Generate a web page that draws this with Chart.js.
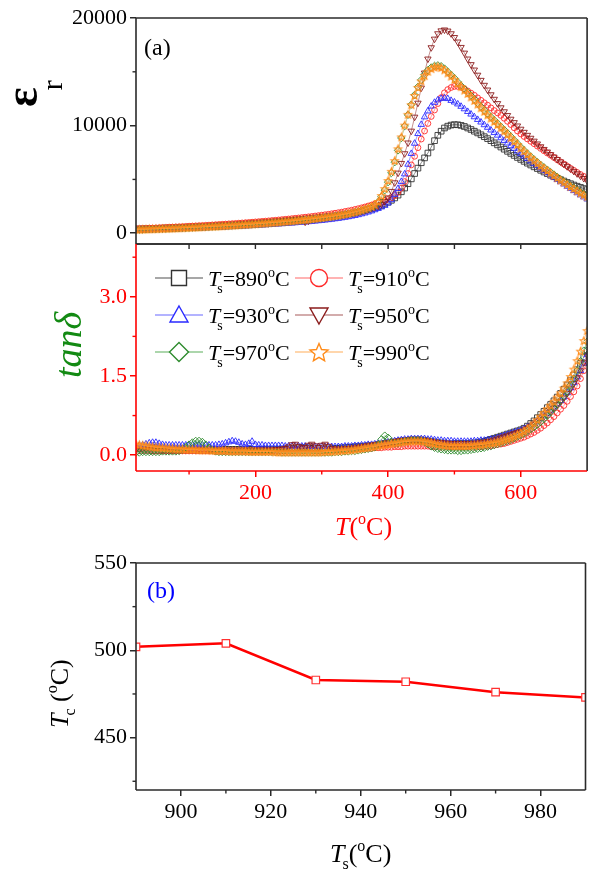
<!DOCTYPE html>
<html>
<head>
<meta charset="utf-8">
<script src="https://cdn.jsdelivr.net/npm/chart.js@4.4.1/dist/chart.umd.min.js"></script>
<style>
  html, body { margin: 0; padding: 0; background: #fff; }
  #wrap { position: relative; width: 592px; height: 870px; }
  #wrap canvas { position: absolute; left: 0; top: 0; }
</style>
</head>
<body>
<div id="wrap">
  <canvas id="cEps" width="592" height="870"></canvas>
  <canvas id="cTan" width="592" height="870"></canvas>
  <canvas id="cTc" width="592" height="870"></canvas>
</div>
<script>
// Measuring temperature T (°C)
const temps = [20,25,30,35,40,45,50,55,60,65,
  70,75,80,85,90,95,100,105,110,115,
  120,125,130,135,140,145,150,155,160,165,
  170,175,180,185,190,195,200,205,210,215,
  220,225,230,235,240,245,250,255,260,265,
  270,275,280,285,290,295,300,305,310,315,
  320,325,330,335,340,345,350,355,360,365,
  370,375,380,385,390,395,400,405,410,415,
  420,425,430,435,440,445,450,455,460,465,
  470,475,480,485,490,495,500,505,510,515,
  520,525,530,535,540,545,550,555,560,565,
  570,575,580,585,590,595,600,605,610,615,
  620,625,630,635,640,645,650,655,660,665,
  670,675,680,685,690,695,700];

// Relative permittivity for each sintering temperature
const eps890 = [380,390,400,410,420,430,445,455,470,480,
  495,505,520,530,545,560,575,590,605,620,
  635,650,665,680,700,715,735,750,770,790,
  810,830,850,870,890,910,935,955,980,1000,
  1025,1050,1075,1100,1125,1150,1180,1205,1235,1260,
  1290,1320,1350,1380,1410,1440,1475,1510,1545,1580,
  1620,1660,1700,1745,1790,1840,1900,1960,2030,2110,
  2180,2260,2350,2460,2580,2720,2880,3060,3280,3540,
  3850,4200,4600,5050,5550,6050,6550,7000,7450,8000,
  8600,9100,9480,9780,9950,10050,10090,10080,10020,9920,
  9780,9640,9480,9320,9150,8970,8790,8600,8400,8210,
  8010,7810,7610,7420,7230,7040,6860,6680,6510,6340,
  6170,6010,5850,5690,5540,5390,5250,5110,4980,4850,
  4720,4600,4480,4370,4260,4150,4050];
const eps910 = [420,430,445,455,470,480,495,510,525,540,
  555,570,585,600,615,630,650,665,680,700,
  715,735,750,770,790,810,830,850,870,890,
  910,935,955,980,1000,1025,1050,1075,1100,1125,
  1150,1180,1205,1235,1265,1295,1325,1355,1390,1420,
  1455,1490,1525,1560,1600,1640,1680,1720,1760,1810,
  1860,1910,1960,2020,2080,2140,2210,2280,2360,2440,
  2530,2620,2720,2820,2920,3030,3150,3300,3500,3800,
  4200,4800,5550,6350,7150,7950,8750,9500,10200,10850,
  11450,12050,12600,13050,13350,13540,13640,13640,13560,13420,
  13220,13020,12820,12580,12350,12120,11900,11650,11400,11180,
  10950,10680,10400,10100,9800,9500,9230,8990,8760,8540,
  8320,8100,7880,7660,7450,7250,7040,6830,6630,6430,
  6230,6030,5840,5650,5460,5280,5100];
const eps930 = [280,290,300,305,315,325,335,345,355,365,
  375,385,395,405,415,425,435,450,460,470,
  485,495,510,520,535,545,560,575,590,605,
  620,635,650,665,680,700,715,735,750,770,
  790,810,830,850,870,890,915,935,960,985,
  1010,1035,1060,1090,1120,1150,1180,1215,1250,1290,
  1330,1370,1420,1470,1520,1580,1640,1710,1790,1870,
  1960,2060,2170,2290,2430,2580,2800,3100,3600,4150,
  4800,5500,6400,7400,8350,9250,10100,10800,11350,11800,
  12150,12380,12520,12570,12500,12330,12180,12000,11780,11550,
  11300,11060,10810,10560,10320,10070,9830,9580,9340,9100,
  8860,8610,8370,8120,7880,7620,7380,7160,6930,6700,
  6480,6270,6050,5830,5620,5400,5190,4980,4770,4560,
  4350,4150,3950,3750,3550,3360,3170];
const eps950 = [350,360,370,380,390,400,410,420,435,445,
  460,470,485,495,510,525,540,555,570,585,
  600,615,630,650,665,685,700,720,740,760,
  780,800,820,840,860,880,905,925,950,975,
  1000,1025,1050,1080,1110,1140,1170,1200,1230,1255,
  1200,1050,1150,1300,1360,1400,1440,1480,1520,1560,
  1600,1650,1700,1750,1800,1860,1920,1990,2060,2140,
  2230,2330,2440,2560,2700,2950,3300,3900,4700,5600,
  6500,7400,8400,9500,10800,12100,13500,14900,16200,17250,
  18050,18550,18820,18900,18800,18550,18200,17780,17280,16750,
  16200,15680,15180,14700,14220,13760,13320,12880,12460,12060,
  11670,11300,10950,10610,10290,9980,9680,9390,9110,8840,
  8570,8310,8050,7800,7560,7320,7090,6860,6640,6420,
  6200,5980,5760,5540,5320,5100,4880];
const eps970 = [330,340,350,360,370,380,390,400,410,420,
  435,445,455,470,480,495,505,520,535,550,
  560,575,590,605,620,635,650,670,685,700,
  720,735,755,775,795,815,835,855,880,900,
  925,950,975,1000,1025,1050,1080,1110,1140,1170,
  1200,1230,1265,1300,1335,1370,1410,1450,1490,1530,
  1580,1630,1680,1740,1800,1870,1940,2020,2110,2200,
  2310,2430,2570,2900,3400,4000,4750,5600,6600,7700,
  8850,9950,11000,11950,12850,13600,14250,14750,15150,15400,
  15550,15600,15520,15300,15000,14700,14400,14050,13700,13400,
  13100,12780,12450,12100,11750,11430,11100,10800,10500,10200,
  9900,9600,9300,8980,8650,8330,8000,7700,7400,7120,
  6850,6600,6350,6120,5900,5670,5450,5220,5000,4800,
  4600,4400,4200,4000,3800,3620,3450];
const eps990 = [360,370,380,390,400,410,420,430,440,450,
  465,475,490,500,515,525,540,555,570,585,
  600,615,630,645,660,680,695,710,730,745,
  765,785,805,825,845,865,885,910,930,955,
  980,1000,1025,1050,1080,1105,1135,1160,1190,1220,
  1250,1280,1315,1350,1385,1420,1460,1500,1540,1585,
  1630,1680,1730,1790,1850,1920,1990,2070,2160,2260,
  2370,2500,2650,2950,3500,4150,4900,5750,6750,7850,
  8950,10050,11050,11950,12800,13550,14150,14650,15050,15300,
  15450,15480,15400,15180,14900,14600,14300,13950,13620,13300,
  12990,12670,12340,12000,11660,11330,11000,10700,10400,10100,
  9800,9500,9200,8880,8560,8240,7920,7620,7330,7050,
  6780,6530,6280,6050,5830,5600,5380,5150,4940,4740,
  4540,4340,4140,3940,3740,3560,3400];

// Dielectric loss tangent for each sintering temperature
const tan890 = [0.14,0.14,0.13,0.13,0.13,0.13,0.12,0.12,0.12,0.12,
  0.12,0.12,0.12,0.12,0.12,0.12,0.12,0.12,0.12,0.12,
  0.12,0.12,0.11,0.11,0.11,0.11,0.11,0.11,0.11,0.11,
  0.11,0.11,0.11,0.11,0.11,0.11,0.11,0.11,0.11,0.11,
  0.11,0.11,0.11,0.11,0.12,0.12,0.12,0.13,0.13,0.14,
  0.14,0.14,0.14,0.13,0.13,0.12,0.12,0.12,0.12,0.12,
  0.13,0.13,0.14,0.14,0.15,0.15,0.16,0.16,0.17,0.17,
  0.18,0.18,0.19,0.20,0.21,0.22,0.23,0.24,0.25,0.26,
  0.27,0.28,0.28,0.29,0.29,0.29,0.29,0.28,0.27,0.26,
  0.25,0.24,0.23,0.23,0.22,0.22,0.22,0.22,0.22,0.22,
  0.22,0.23,0.23,0.24,0.25,0.26,0.28,0.30,0.32,0.34,
  0.36,0.38,0.40,0.42,0.44,0.46,0.48,0.51,0.55,0.60,
  0.65,0.71,0.77,0.83,0.90,0.96,1.03,1.10,1.17,1.25,
  1.33,1.42,1.52,1.62,1.74,1.86,1.98];
const tan910 = [0.09,0.09,0.09,0.09,0.09,0.08,0.08,0.08,0.08,0.08,
  0.08,0.08,0.08,0.08,0.08,0.08,0.08,0.08,0.08,0.08,
  0.08,0.08,0.08,0.08,0.07,0.07,0.07,0.07,0.07,0.07,
  0.07,0.07,0.07,0.07,0.07,0.07,0.07,0.07,0.07,0.07,
  0.08,0.08,0.08,0.08,0.09,0.09,0.10,0.10,0.11,0.11,
  0.12,0.12,0.11,0.10,0.10,0.09,0.09,0.09,0.09,0.10,
  0.10,0.10,0.10,0.11,0.11,0.11,0.12,0.12,0.12,0.13,
  0.13,0.13,0.14,0.14,0.14,0.15,0.15,0.15,0.16,0.16,
  0.16,0.17,0.17,0.17,0.17,0.17,0.17,0.17,0.17,0.16,
  0.16,0.16,0.15,0.15,0.15,0.15,0.15,0.15,0.15,0.15,
  0.15,0.15,0.15,0.16,0.16,0.17,0.17,0.18,0.19,0.20,
  0.21,0.22,0.24,0.26,0.28,0.30,0.32,0.34,0.37,0.40,
  0.43,0.47,0.51,0.56,0.61,0.67,0.73,0.80,0.87,0.94,
  1.02,1.11,1.20,1.31,1.45,1.60,1.75];
const tan930 = [0.17,0.18,0.19,0.21,0.23,0.24,0.24,0.22,0.20,0.19,
  0.19,0.19,0.19,0.19,0.19,0.19,0.19,0.19,0.19,0.19,
  0.19,0.19,0.19,0.19,0.19,0.20,0.21,0.23,0.25,0.27,
  0.26,0.24,0.21,0.20,0.22,0.26,0.20,0.19,0.19,0.18,
  0.18,0.18,0.18,0.18,0.18,0.17,0.17,0.17,0.17,0.17,
  0.17,0.17,0.16,0.16,0.16,0.16,0.16,0.16,0.16,0.16,
  0.16,0.16,0.16,0.17,0.17,0.17,0.18,0.18,0.19,0.19,
  0.20,0.20,0.21,0.22,0.23,0.24,0.25,0.26,0.27,0.28,
  0.29,0.30,0.30,0.31,0.31,0.31,0.31,0.31,0.30,0.30,
  0.29,0.28,0.28,0.27,0.27,0.27,0.26,0.26,0.26,0.26,
  0.26,0.26,0.27,0.27,0.28,0.28,0.29,0.30,0.31,0.33,
  0.35,0.37,0.39,0.41,0.43,0.45,0.47,0.50,0.53,0.56,
  0.60,0.64,0.69,0.74,0.79,0.85,0.91,0.97,1.03,1.10,
  1.18,1.27,1.37,1.48,1.60,1.74,1.90];
const tan950 = [0.10,0.10,0.10,0.10,0.10,0.10,0.10,0.10,0.10,0.10,
  0.10,0.10,0.10,0.10,0.10,0.10,0.10,0.10,0.10,0.10,
  0.10,0.10,0.10,0.10,0.10,0.10,0.10,0.10,0.10,0.10,
  0.10,0.10,0.10,0.10,0.10,0.10,0.10,0.10,0.10,0.10,
  0.10,0.10,0.11,0.11,0.12,0.13,0.16,0.20,0.21,0.17,
  0.14,0.15,0.19,0.21,0.18,0.15,0.19,0.21,0.17,0.13,
  0.12,0.12,0.12,0.13,0.13,0.14,0.14,0.15,0.16,0.17,
  0.18,0.19,0.20,0.21,0.22,0.23,0.24,0.25,0.26,0.27,
  0.28,0.28,0.29,0.29,0.29,0.29,0.28,0.28,0.27,0.26,
  0.25,0.24,0.24,0.23,0.23,0.22,0.22,0.22,0.22,0.22,
  0.22,0.22,0.23,0.23,0.24,0.25,0.26,0.27,0.29,0.31,
  0.33,0.35,0.37,0.39,0.41,0.43,0.45,0.48,0.51,0.55,
  0.59,0.63,0.68,0.73,0.78,0.84,0.90,0.96,1.02,1.09,
  1.17,1.26,1.36,1.47,1.60,1.75,1.90];
const tan970 = [0.05,0.05,0.06,0.06,0.06,0.06,0.06,0.06,0.07,0.07,
  0.07,0.07,0.07,0.08,0.10,0.15,0.20,0.24,0.27,0.27,
  0.25,0.20,0.14,0.09,0.07,0.06,0.06,0.06,0.06,0.06,
  0.06,0.06,0.06,0.06,0.06,0.06,0.06,0.06,0.06,0.06,
  0.06,0.06,0.06,0.06,0.05,0.05,0.05,0.05,0.05,0.05,
  0.05,0.05,0.05,0.05,0.05,0.05,0.05,0.05,0.05,0.05,
  0.06,0.06,0.06,0.07,0.07,0.08,0.08,0.09,0.10,0.11,
  0.12,0.13,0.15,0.20,0.30,0.37,0.33,0.25,0.22,0.23,
  0.25,0.26,0.27,0.28,0.28,0.28,0.27,0.25,0.21,0.17,
  0.14,0.12,0.11,0.10,0.09,0.09,0.09,0.08,0.08,0.09,
  0.09,0.10,0.11,0.12,0.13,0.14,0.16,0.17,0.19,0.21,
  0.23,0.25,0.27,0.29,0.32,0.35,0.38,0.41,0.45,0.49,
  0.53,0.58,0.63,0.69,0.75,0.82,0.89,0.96,1.04,1.12,
  1.21,1.32,1.45,1.60,1.78,1.98,2.15];
const tan990 = [0.21,0.20,0.19,0.18,0.17,0.16,0.15,0.15,0.14,0.14,
  0.13,0.13,0.12,0.12,0.12,0.11,0.11,0.11,0.11,0.10,
  0.10,0.10,0.10,0.09,0.09,0.09,0.09,0.09,0.08,0.08,
  0.08,0.08,0.08,0.08,0.07,0.07,0.07,0.07,0.07,0.07,
  0.07,0.07,0.06,0.06,0.06,0.06,0.06,0.06,0.06,0.06,
  0.06,0.06,0.06,0.06,0.06,0.06,0.06,0.07,0.07,0.07,
  0.08,0.08,0.09,0.09,0.10,0.10,0.11,0.12,0.13,0.14,
  0.15,0.16,0.17,0.18,0.19,0.20,0.21,0.22,0.23,0.24,
  0.25,0.26,0.26,0.27,0.27,0.27,0.27,0.26,0.25,0.24,
  0.22,0.21,0.20,0.19,0.19,0.18,0.18,0.18,0.18,0.18,
  0.18,0.19,0.19,0.20,0.20,0.21,0.22,0.23,0.24,0.25,
  0.27,0.29,0.31,0.33,0.36,0.39,0.42,0.46,0.50,0.55,
  0.61,0.67,0.74,0.81,0.88,0.95,1.02,1.10,1.18,1.27,
  1.37,1.49,1.63,1.79,1.97,2.17,2.36];

// Curie temperature vs sintering temperature
const sinterTemps = [890, 910, 930, 950, 970, 990];
const curieTemps  = [502, 504, 483, 482, 476, 473];

// Axis tick values
const tempTicks   = [200, 400, 600];
const tempMinor   = [100, 300, 500];
const tempEdge    = [100, 200, 300, 400, 500, 600];
const epsTicks    = [0, 10000, 20000];
const epsMinor    = [5000, 15000];
const tanTicks    = [0, 1.5, 3.0];
const tanMinor    = [0.75, 2.25, 3.75];
const tsTicks     = [900, 920, 940, 960, 980];
const tsMinor     = [910, 930, 950, 970];
const tcTicks     = [450, 500, 550];
const tcMinor     = [425, 475, 525];

const SERIF = '"Liberation Serif","Times New Roman",serif';
const FRAME = '#2a2a2a';
const RED = '#ff0000';

function starPath(g, x, y, R, r) {
  g.beginPath();
  for (let i = 0; i < 10; i++) {
    const a = -Math.PI / 2 + i * Math.PI / 5;
    const rad = i % 2 ? r : R;
    g.lineTo(x + Math.cos(a) * rad, y + Math.sin(a) * rad);
  }
  g.closePath();
}
function starImage(R, color, lw) {
  const size = Math.ceil(2 * R + 2 * lw + 2);
  const c = document.createElement('canvas');
  c.width = c.height = size;
  const g = c.getContext('2d');
  starPath(g, size / 2, size / 2 + R * 0.1, R, R * 0.45);
  g.strokeStyle = color; g.lineWidth = lw; g.stroke();
  return c;
}

const series = [
  { name: '890', eps: eps890, tan: tan890, color: '#333333', line: '#8a8a8a', style: 'rect',     rot: 0,   r: 4.0 },
  { name: '910', eps: eps910, tan: tan910, color: '#ff2a2a', line: '#ff9a9a', style: 'circle',   rot: 0,   r: 2.9 },
  { name: '930', eps: eps930, tan: tan930, color: '#2a2aff', line: '#9a9aff', style: 'triangle', rot: 0,   r: 3.7 },
  { name: '950', eps: eps950, tan: tan950, color: '#8b1c1c', line: '#c49090', style: 'triangle', rot: 180, r: 3.7 },
  { name: '970', eps: eps970, tan: tan970, color: '#2e8b2e', line: '#90c890', style: 'rectRot',  rot: 0,   r: 3.7 },
  { name: '990', eps: eps990, tan: tan990, color: '#ff8c1a', line: '#ffc890', style: 'star',     rot: 0,   r: 3.7 }
];
const plotStar = starImage(4.0, '#ff8c1a', 1.1);

function makeDatasets(key) {
  return series.map((s, i) => ({
    data: temps.map((t, k) => ({ x: t, y: s[key][k] })),
    borderColor: s.line,
    borderWidth: 1,
    pointStyle: s.style === 'star' ? plotStar : s.style,
    pointRotation: s.rot,
    pointRadius: s.r,
    pointBorderColor: s.color,
    pointBackgroundColor: 'rgba(0,0,0,0)',
    pointBorderWidth: 0.9,
    order: series.length - i,
    tension: 0,
    clip: 0
  }));
}

function richText(ctx, x, y, runs) {
  let cx = x;
  for (const r of runs) {
    ctx.font = r.font;
    ctx.fillStyle = r.color;
    cx += r.dx || 0;
    ctx.fillText(r.text, cx, y + (r.dy || 0));
    cx += ctx.measureText(r.text).width;
  }
}
function richTextUp(ctx, x, y, runs) {
  ctx.save();
  ctx.translate(x, y);
  ctx.rotate(-Math.PI / 2);
  richText(ctx, 0, 0, runs);
  ctx.restore();
}
function seg(ctx, x1, y1, x2, y2, color, lw) {
  ctx.strokeStyle = color; ctx.lineWidth = lw;
  ctx.beginPath(); ctx.moveTo(x1, y1); ctx.lineTo(x2, y2); ctx.stroke();
}
function frame(ctx, a, c) {
  seg(ctx, a.left, a.top, a.right, a.top, c.top, 1.6);
  seg(ctx, a.right, a.top, a.right, a.bottom, c.right, 1.6);
  seg(ctx, a.left, a.bottom, a.right, a.bottom, c.bottom, 1.6);
  seg(ctx, a.left, a.top, a.left, a.bottom, c.left, 1.6);
}
function yMinor(ctx, chart, values, len, color) {
  const s = chart.scales.y, a = chart.chartArea;
  values.forEach(v => { const p = s.getPixelForValue(v); seg(ctx, a.left - len, p, a.left, p, color, 1.4); });
}
function xMinor(ctx, chart, values, len, color) {
  const s = chart.scales.x, a = chart.chartArea;
  values.forEach(v => { const p = s.getPixelForValue(v); seg(ctx, p, a.bottom, p, a.bottom + len, color, 1.4); });
}
function legendMarker(ctx, kind, x, y, color) {
  ctx.save();
  ctx.strokeStyle = color; ctx.fillStyle = '#fff'; ctx.lineWidth = 1.4;
  ctx.beginPath();
  if (kind === 'rect') ctx.rect(x - 7.5, y - 7.5, 15, 15);
  else if (kind === 'circle') ctx.arc(x, y, 8.5, 0, Math.PI * 2);
  else if (kind === 'triangle') { ctx.moveTo(x, y - 9); ctx.lineTo(x + 9, y + 7); ctx.lineTo(x - 9, y + 7); ctx.closePath(); }
  else if (kind === 'triDown') { ctx.moveTo(x, y + 9); ctx.lineTo(x + 9, y - 7); ctx.lineTo(x - 9, y - 7); ctx.closePath(); }
  else if (kind === 'rectRot') { ctx.moveTo(x, y - 9.5); ctx.lineTo(x + 9.5, y); ctx.lineTo(x, y + 9.5); ctx.lineTo(x - 9.5, y); ctx.closePath(); }
  else if (kind === 'star') starPath(ctx, x, y + 1, 9.5, 4.3);
  ctx.fill(); ctx.stroke();
  ctx.restore();
}

Chart.defaults.font.family = SERIF;

// ---- (a) upper: relative permittivity ----
const epsDecor = {
  id: 'epsDecor',
  afterDraw(chart) {
    const ctx = chart.ctx, a = chart.chartArea;
    ctx.save();
    frame(ctx, a, { top: FRAME, right: FRAME, bottom: FRAME, left: FRAME });
    yMinor(ctx, chart, epsMinor, 3.5, FRAME);
    const xs = chart.scales.x;
    tempEdge.forEach(v => { const p = xs.getPixelForValue(v); seg(ctx, p, a.bottom, p, a.bottom + 5, FRAME, 1.4); });
    ctx.textBaseline = 'alphabetic'; ctx.textAlign = 'left';
    richText(ctx, 144, 55, [{ text: '(a)', font: '24px ' + SERIF, color: '#000' }]);
    richTextUp(ctx, 37, 107, [
      { text: 'ε', font: 'bold 46px ' + SERIF, color: '#000' },
      { text: 'r', font: '30px ' + SERIF, color: '#000', dy: 25, dx: -3 }
    ]);
    ctx.restore();
  }
};

new Chart(document.getElementById('cEps'), {
  type: 'line',
  data: { datasets: makeDatasets('eps') },
  options: {
    responsive: false, animation: false, devicePixelRatio: 1, events: [],
    layout: { padding: { left: 0, right: 1, top: 18, bottom: 626 } },
    plugins: { legend: { display: false }, tooltip: { enabled: false } },
    scales: {
      x: { type: 'linear', min: 20, max: 700, display: false },
      y: {
        min: -1000, max: 20000,
        afterFit(s) { s.width = 136; },
        afterBuildTicks(s) { s.ticks = epsTicks.map(v => ({ value: v })); },
        ticks: { font: { family: SERIF, size: 22 }, color: '#000', padding: 3, callback: v => String(v) },
        grid: { drawOnChartArea: false, drawTicks: true, tickLength: 6, color: FRAME, lineWidth: 1.5 },
        border: { display: false }
      }
    }
  },
  plugins: [epsDecor]
});

// ---- (a) lower: loss tangent with legend ----
const tanDecor = {
  id: 'tanDecor',
  afterDraw(chart) {
    const ctx = chart.ctx, a = chart.chartArea;
    ctx.save();
    frame(ctx, a, { top: FRAME, right: FRAME, bottom: RED, left: RED });
    yMinor(ctx, chart, tanMinor, 3.5, RED);
    xMinor(ctx, chart, tempMinor, 3.5, RED);
    ctx.textBaseline = 'alphabetic'; ctx.textAlign = 'left';

    const cols = [155, 295], rows = [278, 315, 352];
    series.forEach((s, i) => {
      const x0 = cols[i % 2], y0 = rows[Math.floor(i / 2)];
      seg(ctx, x0, y0, x0 + 48, y0, s.line, 1.3);
      const kind = s.style === 'triangle' && s.rot === 180 ? 'triDown' : s.style;
      legendMarker(ctx, kind, x0 + 24, y0, s.color);
      richText(ctx, x0 + 53, y0 + 8, [
        { text: 'T', font: 'italic 22px ' + SERIF, color: '#000' },
        { text: 's', font: '14px ' + SERIF, color: '#000', dy: 7, dx: -3 },
        { text: '=' + s.name, font: '22px ' + SERIF, color: '#000' },
        { text: 'o', font: '14px ' + SERIF, color: '#000', dy: -9 },
        { text: 'C', font: '22px ' + SERIF, color: '#000' }
      ]);
    });

    richTextUp(ctx, 81, 378, [{ text: 'tanδ', font: 'italic 38px ' + SERIF, color: '#138a13' }]);
    richText(ctx, 335, 535, [
      { text: 'T', font: 'italic 26px ' + SERIF, color: RED },
      { text: '(', font: '26px ' + SERIF, color: RED },
      { text: 'o', font: '16px ' + SERIF, color: RED, dy: -11 },
      { text: 'C)', font: '26px ' + SERIF, color: RED }
    ]);
    ctx.restore();
  }
};

new Chart(document.getElementById('cTan'), {
  type: 'line',
  data: { datasets: makeDatasets('tan') },
  options: {
    responsive: false, animation: false, devicePixelRatio: 1, events: [],
    layout: { padding: { left: 0, right: 1, top: 244, bottom: 339 } },
    plugins: { legend: { display: false }, tooltip: { enabled: false } },
    scales: {
      x: {
        type: 'linear', min: 20, max: 700,
        afterFit(s) { s.height = 60; },
        afterBuildTicks(s) { s.ticks = tempTicks.map(v => ({ value: v })); },
        ticks: { font: { family: SERIF, size: 22 }, color: RED, padding: 3, maxRotation: 0, callback: v => String(v) },
        grid: { drawOnChartArea: false, drawTicks: true, tickLength: 6, color: RED, lineWidth: 1.5 },
        border: { display: false }
      },
      y: {
        min: -0.3, max: 4.0,
        afterFit(s) { s.width = 136; },
        afterBuildTicks(s) { s.ticks = tanTicks.map(v => ({ value: v })); },
        ticks: { font: { family: SERIF, size: 22 }, color: RED, padding: 3, callback: v => v.toFixed(1) },
        grid: { drawOnChartArea: false, drawTicks: true, tickLength: 6, color: RED, lineWidth: 1.5 },
        border: { display: false }
      }
    }
  },
  plugins: [tanDecor]
});

// ---- (b) Curie temperature ----
const tcDecor = {
  id: 'tcDecor',
  afterDraw(chart) {
    const ctx = chart.ctx, a = chart.chartArea;
    ctx.save();
    frame(ctx, a, { top: FRAME, right: FRAME, bottom: FRAME, left: FRAME });
    yMinor(ctx, chart, tcMinor, 3.5, FRAME);
    xMinor(ctx, chart, tsMinor, 3.5, FRAME);
    ctx.textBaseline = 'alphabetic'; ctx.textAlign = 'left';
    richText(ctx, 147, 598, [{ text: '(b)', font: '24px ' + SERIF, color: '#0000ff' }]);
    richText(ctx, 330, 862, [
      { text: 'T', font: 'italic 26px ' + SERIF, color: '#000' },
      { text: 's', font: '16px ' + SERIF, color: '#000', dy: 7, dx: -2 },
      { text: '(', font: '26px ' + SERIF, color: '#000' },
      { text: 'o', font: '16px ' + SERIF, color: '#000', dy: -11 },
      { text: 'C)', font: '26px ' + SERIF, color: '#000' }
    ]);
    richTextUp(ctx, 68, 728, [
      { text: 'T', font: 'italic 26px ' + SERIF, color: '#000' },
      { text: 'c', font: '16px ' + SERIF, color: '#000', dy: 7, dx: -2 },
      { text: ' (', font: '26px ' + SERIF, color: '#000' },
      { text: 'o', font: '16px ' + SERIF, color: '#000', dy: -11 },
      { text: 'C)', font: '26px ' + SERIF, color: '#000' }
    ]);
    ctx.restore();
  }
};

new Chart(document.getElementById('cTc'), {
  type: 'line',
  data: {
    datasets: [{
      data: sinterTemps.map((t, i) => ({ x: t, y: curieTemps[i] })),
      borderColor: '#ff0000', borderWidth: 2.6,
      pointStyle: 'rect', pointRadius: 5.3,
      pointBorderColor: '#ff3030', pointBackgroundColor: '#ffffff', pointBorderWidth: 1.2,
      tension: 0, clip: 0
    }]
  },
  options: {
    responsive: false, animation: false, devicePixelRatio: 1, events: [],
    layout: { padding: { left: 0, right: 1, top: 563, bottom: 20 } },
    plugins: { legend: { display: false }, tooltip: { enabled: false } },
    scales: {
      x: {
        type: 'linear', min: 890, max: 990,
        afterFit(s) { s.height = 60; },
        afterBuildTicks(s) { s.ticks = tsTicks.map(v => ({ value: v })); },
        ticks: { font: { family: SERIF, size: 22 }, color: '#000', padding: 3, maxRotation: 0, callback: v => String(v) },
        grid: { drawOnChartArea: false, drawTicks: true, tickLength: 6, color: FRAME, lineWidth: 1.5 },
        border: { display: false }
      },
      y: {
        min: 420, max: 550,
        afterFit(s) { s.width = 136; },
        afterBuildTicks(s) { s.ticks = tcTicks.map(v => ({ value: v })); },
        ticks: { font: { family: SERIF, size: 22 }, color: '#000', padding: 3, callback: v => String(v) },
        grid: { drawOnChartArea: false, drawTicks: true, tickLength: 6, color: FRAME, lineWidth: 1.5 },
        border: { display: false }
      }
    }
  },
  plugins: [tcDecor]
});
</script>
</body>
</html>
